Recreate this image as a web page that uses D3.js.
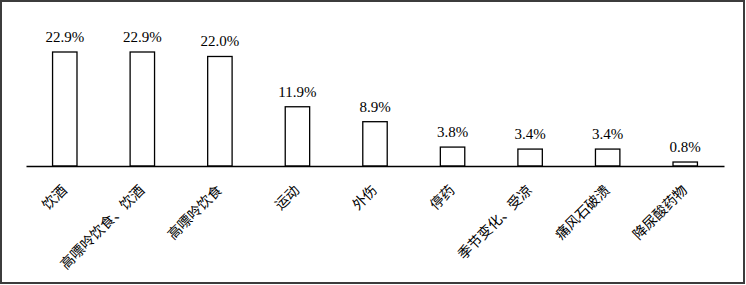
<!DOCTYPE html>
<html><head><meta charset="utf-8">
<script src="https://cdn.jsdelivr.net/npm/d3@7"></script>
<style>html,body{margin:0;padding:0;background:#fff;}svg{display:block;}
.val{font-family:"Liberation Serif","Times New Roman",serif;font-size:15px;}
.cat{font-family:"Noto Sans CJK SC",sans-serif;font-size:14px;}
</style>
</head><body>
<svg id="c" width="746" height="285"></svg>
<script>
const categories = ["饮酒","高嘌呤饮食、饮酒","高嘌呤饮食","运动","外伤","停药","季节变化、受凉","痛风石破溃","降尿酸药物"];
const values = [22.9, 22.9, 22.0, 11.9, 8.9, 3.8, 3.4, 3.4, 0.8];
const valueLabels = ["22.9%","22.9%","22.0%","11.9%","8.9%","3.8%","3.4%","3.4%","0.8%"];

const svg = d3.select("#c");
svg.append("rect").attr("x",1).attr("y",1).attr("width",743).attr("height",282)
  .attr("fill","#fff").attr("stroke","#3c3c3c").attr("stroke-width",2);

const x = d3.scaleBand().domain(categories).range([26,724]).paddingInner(0.685).paddingOuter(0.3425);
const y = d3.scaleLinear().domain([0,22.9]).range([166,52]);

const g = svg.append("g");
g.selectAll("rect.bar").data(categories).join("rect").attr("class","bar")
  .attr("x",d=>x(d)).attr("width",x.bandwidth())
  .attr("y",(d,i)=>y(values[i])).attr("height",(d,i)=>y(0)-y(values[i]))
  .attr("fill","#fff").attr("stroke","#000").attr("stroke-width",1.3);

const axis = d3.axisBottom(x).tickSize(0).tickSizeOuter(0).tickPadding(0);
const ax = svg.append("g").attr("transform",`translate(0,${y(0)})`).call(axis)
  .attr("font-family",null).attr("font-size",null);
ax.select(".domain").attr("stroke","#000").attr("stroke-width",1.5);
ax.selectAll(".tick text")
  .attr("class","cat")
  .attr("text-anchor","end")
  .attr("dy",null).attr("y",0)
  .attr("transform","translate(3,25) rotate(-45)")
  .attr("fill","#000");

g.selectAll("text.val").data(categories).join("text").attr("class","val")
  .attr("x",d=>x(d)+x.bandwidth()/2).attr("y",(d,i)=>y(values[i])-10)
  .attr("text-anchor","middle")
  .attr("fill","#000")
  .text((d,i)=>valueLabels[i]);
</script>
</body></html>
